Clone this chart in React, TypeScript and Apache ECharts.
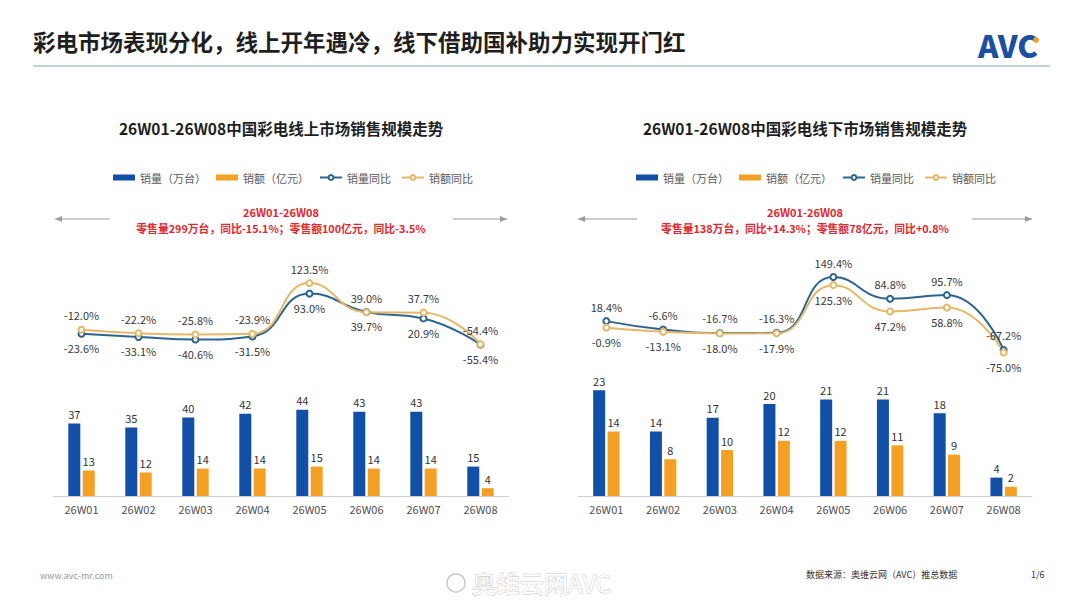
import React, { useEffect, useRef } from 'react';
import * as echarts from 'echarts';

const weeks = ['26W01', '26W02', '26W03', '26W04', '26W05', '26W06', '26W07', '26W08'];

const onlineVolume = [37, 35, 40, 42, 44, 43, 43, 15];
const onlineAmount = [13, 12, 14, 14, 15, 14, 14, 4];
const onlineVolumeYoY = [-23.6, -33.1, -40.6, -31.5, 93.0, 39.7, 20.9, -55.4];
const onlineAmountYoY = [-12.0, -22.2, -25.8, -23.9, 123.5, 39.0, 37.7, -54.4];

const offlineVolume = [23, 14, 17, 20, 21, 21, 18, 4];
const offlineAmount = [14, 8, 10, 12, 12, 11, 9, 2];
const offlineVolumeYoY = [18.4, -6.6, -16.7, -16.3, 149.4, 84.8, 95.7, -67.2];
const offlineAmountYoY = [-0.9, -13.1, -18.0, -17.9, 125.3, 47.2, 58.8, -75.0];

const seriesNames = ['销量（万台）', '销额（亿元）', '销量同比', '销额同比'];

const pageTitle = '彩电市场表现分化，线上开年遇冷，线下借助国补助力实现开门红';
const leftTitle = '26W01-26W08中国彩电线上市场销售规模走势';
const rightTitle = '26W01-26W08中国彩电线下市场销售规模走势';
const periodText = '26W01-26W08';
const leftSummary = '零售量299万台，同比-15.1%；零售额100亿元，同比-3.5%';
const rightSummary = '零售量138万台，同比+14.3%；零售额78亿元，同比+0.8%';

const FONT = '"Noto Sans CJK SC", "Noto Sans", sans-serif';
const BLUE_BAR = '#1150A6';
const ORANGE_BAR = '#F4A024';
const BLUE_LINE = '#2C6490';
const ORANGE_LINE = '#E6B767';
const RED = '#E5262B';

const pct = (p: any) => `${Number(p.value).toFixed(1)}%`;

function arrow(x1: number, x2: number, y: number, dir: 1 | -1) {
  const tip = dir === 1 ? x2 : x1;
  return [
    { type: 'line', shape: { x1, y1: y, x2, y2: y }, style: { stroke: '#9a9a9a', lineWidth: 1 } },
    {
      type: 'polygon',
      shape: { points: [[tip, y], [tip - dir * 7, y - 3], [tip - dir * 7, y + 3]] },
      style: { fill: '#9a9a9a' },
    },
  ];
}

export default function App() {
  const ref = useRef<HTMLDivElement>(null);

  useEffect(() => {
    if (!ref.current) return;
    const chart = echarts.init(ref.current, undefined, { renderer: 'svg' });

    const grids = [
      { left: 53, width: 456, top: 274, height: 86 },
      { left: 53, width: 456, top: 398, height: 98 },
      { left: 578, width: 454, top: 260, height: 101 },
      { left: 578, width: 454, top: 381, height: 115 },
    ];

    const xAxes = grids.map((_, i) => ({
      type: 'category',
      gridIndex: i,
      data: weeks,
      boundaryGap: true,
      show: i % 2 === 1,
      axisLine: { show: true, lineStyle: { color: '#cfcfcf', width: 1 } },
      axisTick: { show: false },
      axisLabel: { color: '#505050', fontSize: 11, fontFamily: FONT, margin: 7 },
    }));

    const yAxes = [
      { type: 'value', gridIndex: 0, min: -100, max: 150, show: false },
      { type: 'value', gridIndex: 1, min: 0, max: 50, show: false },
      { type: 'value', gridIndex: 2, min: -100, max: 200, show: false },
      { type: 'value', gridIndex: 3, min: 0, max: 25, show: false },
    ];

    const barSeries = (name: string, data: number[], color: string, idx: number) => ({
      name,
      type: 'bar',
      xAxisIndex: idx,
      yAxisIndex: idx,
      data,
      barWidth: 12,
      barGap: '20%',
      itemStyle: { color },
      label: { show: true, position: 'top', color: '#333', fontSize: 11, fontFamily: FONT, distance: 4 },
    });

    const lineSeries = (name: string, data: number[], color: string, idx: number, pos: string) => ({
      name,
      type: 'line',
      xAxisIndex: idx,
      yAxisIndex: idx,
      data,
      smooth: true,
      symbol: 'emptyCircle',
      symbolSize: 6,
      lineStyle: { color, width: 2 },
      itemStyle: { color, borderColor: color, borderWidth: 1.2 },
      label: {
        show: true,
        position: pos,
        color: '#3a3a3a',
        fontSize: 11,
        fontFamily: FONT,
        formatter: pct,
      },
      z: 3,
    });

    const legendBase = {
      data: [
        { name: seriesNames[0], icon: 'rect' },
        { name: seriesNames[1], icon: 'rect' },
        { name: seriesNames[2] },
        { name: seriesNames[3] },
      ],
      itemWidth: 22,
      itemHeight: 6,
      itemGap: 10,
      textStyle: { color: '#5a5a5a', fontSize: 11, fontFamily: FONT },
      selectedMode: false,
    };

    const graphic: any[] = [
      {
        type: 'text',
        left: 33,
        top: 30,
        style: { text: pageTitle, fill: '#1f1f1f', font: `bold 22.5px ${FONT}` },
      },
      { type: 'line', shape: { x1: 33, y1: 66, x2: 1050, y2: 66 }, style: { stroke: '#a9c3cb', lineWidth: 1.5 } },
      {
        type: 'text',
        x: 978,
        y: 44,
        style: {
          text: 'AVC',
          fill: '#1B4F9F',
          font: `900 31px ${FONT}`,
          textVerticalAlign: 'middle',
        },
      },
      { type: 'circle', shape: { cx: 1036, cy: 40, r: 3 }, style: { fill: '#F0A030' } },
      // chart titles
      {
        type: 'text',
        x: 281,
        y: 128,
        style: { text: leftTitle, fill: '#1f1f1f', font: `bold 15.5px ${FONT}`, textAlign: 'center', textVerticalAlign: 'middle' },
      },
      {
        type: 'text',
        x: 805,
        y: 128,
        style: { text: rightTitle, fill: '#1f1f1f', font: `bold 15.5px ${FONT}`, textAlign: 'center', textVerticalAlign: 'middle' },
      },
      // red summaries
      {
        type: 'text',
        x: 281,
        y: 212,
        style: { text: periodText, fill: RED, font: `bold 11px ${FONT}`, textAlign: 'center', textVerticalAlign: 'middle' },
      },
      {
        type: 'text',
        x: 281,
        y: 228,
        style: { text: leftSummary, fill: RED, font: `bold 10.8px ${FONT}`, textAlign: 'center', textVerticalAlign: 'middle' },
      },
      {
        type: 'text',
        x: 805,
        y: 212,
        style: { text: periodText, fill: RED, font: `bold 11px ${FONT}`, textAlign: 'center', textVerticalAlign: 'middle' },
      },
      {
        type: 'text',
        x: 805,
        y: 228,
        style: { text: rightSummary, fill: RED, font: `bold 10.8px ${FONT}`, textAlign: 'center', textVerticalAlign: 'middle' },
      },
      ...arrow(55, 110, 219, -1),
      ...arrow(453, 507, 219, 1),
      ...arrow(578, 637, 219, -1),
      ...arrow(972, 1032, 219, 1),
      // footer
      {
        type: 'text',
        x: 40,
        y: 575,
        style: { text: 'www.avc-mr.com', fill: '#9a9a9a', font: `9px ${FONT}`, textVerticalAlign: 'middle' },
      },
      {
        type: 'text',
        x: 806,
        y: 574,
        style: { text: '数据来源：奥维云网（AVC）推总数据', fill: '#333', font: `9px ${FONT}`, textVerticalAlign: 'middle' },
      },
      {
        type: 'text',
        x: 1031,
        y: 574,
        style: { text: '1/6', fill: '#333', font: `9px ${FONT}`, textVerticalAlign: 'middle' },
      },
      {
        type: 'text',
        x: 472,
        y: 582,
        style: {
          text: '奥维云网AVC',
          fill: '#ffffff',
          stroke: '#c9c9c9',
          lineWidth: 1,
          font: `24px ${FONT}`,
          textVerticalAlign: 'middle',
        },
      },
      { type: 'circle', shape: { cx: 456, cy: 583, r: 9 }, style: { fill: 'none', stroke: '#c9c9c9', lineWidth: 1.5 } },
    ];

    chart.setOption({
      animation: false,
      backgroundColor: '#ffffff',
      textStyle: { fontFamily: FONT },
      grid: grids,
      xAxis: xAxes,
      yAxis: yAxes,
      legend: [
        { ...legendBase, left: 108, top: 167 },
        { ...legendBase, left: 631, top: 167 },
      ],
      graphic,
      series: [
        lineSeries(seriesNames[2], onlineVolumeYoY, BLUE_LINE, 0, 'bottom'),
        lineSeries(seriesNames[3], onlineAmountYoY, ORANGE_LINE, 0, 'top'),
        barSeries(seriesNames[0], onlineVolume, BLUE_BAR, 1),
        barSeries(seriesNames[1], onlineAmount, ORANGE_BAR, 1),
        lineSeries(seriesNames[2], offlineVolumeYoY, BLUE_LINE, 2, 'top'),
        lineSeries(seriesNames[3], offlineAmountYoY, ORANGE_LINE, 2, 'bottom'),
        barSeries(seriesNames[0], offlineVolume, BLUE_BAR, 3),
        barSeries(seriesNames[1], offlineAmount, ORANGE_BAR, 3),
      ],
    });

    return () => chart.dispose();
  }, []);

  return (
    <div
      ref={ref}
      style={{ position: 'fixed', left: 0, top: 0, width: 1080, height: 608, background: '#fff' }}
    />
  );
}
